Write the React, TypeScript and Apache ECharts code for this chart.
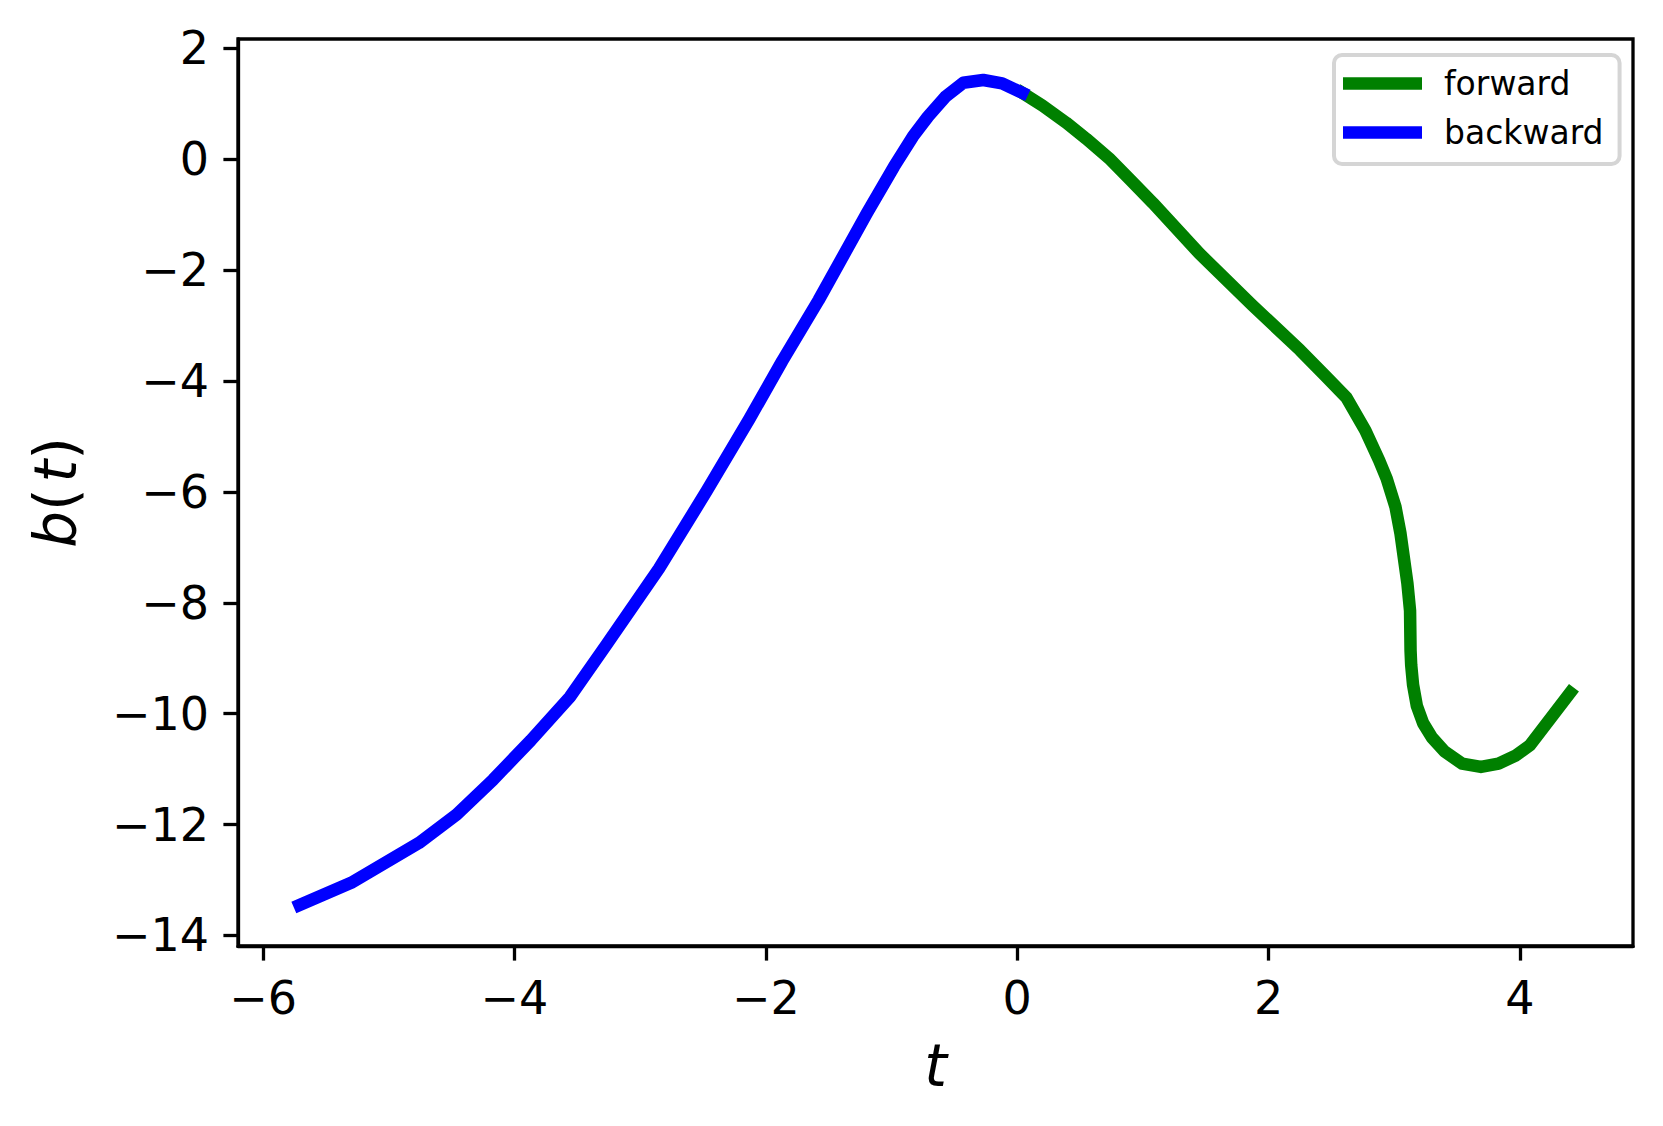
import React, { useEffect, useRef } from "react";
import * as echarts from "echarts";

// ---- data ----
const forwardT = [0.04, 0.20, 0.39, 0.55, 0.73, 0.90, 1.08, 1.45, 1.87, 2.25, 2.45, 2.62, 2.77, 2.88, 2.94, 3.01, 3.05, 3.105, 3.126, 3.13, 3.135, 3.15, 3.18, 3.23, 3.30, 3.40, 3.54, 3.69, 3.83, 3.97, 4.08, 4.40];
const forwardB = [1.20, 0.97, 0.66, 0.37, 0.02, -0.37, -0.79, -1.70, -2.63, -3.44, -3.90, -4.30, -4.89, -5.43, -5.76, -6.27, -6.75, -7.65, -8.14, -8.86, -9.12, -9.48, -9.86, -10.17, -10.43, -10.68, -10.90, -10.96, -10.90, -10.75, -10.57, -9.62];

const backwardT = [-5.71, -5.30, -4.76, -4.46, -4.17, -3.87, -3.56, -3.27, -2.85, -2.47, -2.13, -1.87, -1.58, -1.195, -0.98, -0.83, -0.71, -0.57, -0.43, -0.27, -0.12, 0.04];
const backwardB = [-13.45, -13.05, -12.33, -11.82, -11.19, -10.48, -9.70, -8.76, -7.38, -5.98, -4.68, -3.64, -2.54, -0.97, -0.13, 0.41, 0.77, 1.13, 1.38, 1.43, 1.37, 1.20];

const seriesNames = ["forward", "backward"];
const seriesColors = ["#008000", "#0000ff"];

const xTicks = [-6, -4, -2, 0, 2, 4];
const yTicks = [-14, -12, -10, -8, -6, -4, -2, 0, 2];
const xRange = [-6.2, 4.9];
const yRange = [-14.19, 2.17];

const FONT = '"DejaVu Sans", sans-serif';

const fmt = (v: number) => (v < 0 ? "\u2212" + Math.abs(v) : String(v));

export default function App() {
  const ref = useRef<HTMLDivElement>(null);
  useEffect(() => {
    if (!ref.current) return;
    const chart = echarts.init(ref.current, undefined, { renderer: "svg" });
    const fwd = forwardT.map((t, i) => [t, forwardB[i]]);
    const bwd = backwardT.map((t, i) => [t, backwardB[i]]);
    const tickStyle = { color: "#000", width: 3.3 };
    chart.setOption({
      animation: false,
      backgroundColor: "#fff",
      color: seriesColors,
      grid: {
        left: 238,
        right: 30,
        top: 39,
        bottom: 180,
        show: true,
        borderColor: "#000",
        borderWidth: 3.3,
        backgroundColor: "transparent",
      },
      legend: {
        data: seriesNames,
        orient: "vertical",
        left: 1334,
        top: 55,
        padding: [12, 16, 15, 9],
        itemWidth: 79,
        itemHeight: 12.5,
        itemGap: 16,
        icon: "rect",
        itemStyle: { borderWidth: 0 },
        borderColor: "#d5d5d5",
        borderWidth: 4,
        borderRadius: 8,
        backgroundColor: "#fff",
        textStyle: {
          fontFamily: FONT,
          fontSize: 33,
          color: "#000",
          padding: [0, 0, 0, 17],
        },
      },
      xAxis: {
        type: "value",
        min: xRange[0],
        max: xRange[1],
        name: "t",
        nameLocation: "middle",
        nameGap: 91,
        nameTextStyle: { fontFamily: FONT, fontSize: 58, fontStyle: "italic", color: "#000" },
        axisLine: { show: true, onZero: false, lineStyle: tickStyle },
        axisTick: { show: true, customValues: xTicks, length: 14.6, lineStyle: tickStyle },
        axisLabel: {
          customValues: xTicks,
          formatter: fmt,
          fontFamily: FONT,
          fontSize: 46,
          color: "#000",
          margin: 29,
        },
        splitLine: { show: false },
      },
      yAxis: {
        type: "value",
        min: yRange[0],
        max: yRange[1],
        name: "{i|b}(\u200a{i|t})",
        nameLocation: "middle",
        nameGap: 153,
        nameTextStyle: {
          fontFamily: FONT,
          fontSize: 58,
          color: "#000",
          rich: { i: { fontFamily: FONT, fontSize: 58, fontStyle: "italic", color: "#000" } },
        },
        axisLine: { show: true, onZero: false, lineStyle: tickStyle },
        axisTick: { show: true, customValues: yTicks, length: 14.6, lineStyle: tickStyle },
        axisLabel: {
          customValues: yTicks,
          formatter: fmt,
          fontFamily: FONT,
          fontSize: 46,
          color: "#000",
          margin: 29,
        },
        splitLine: { show: false },
      },
      series: [
        {
          name: seriesNames[0],
          type: "line",
          data: fwd,
          symbol: "none",
          lineStyle: { width: 12.5, color: seriesColors[0], cap: "square", join: "round" },
          itemStyle: { color: seriesColors[0] },
        },
        {
          name: seriesNames[1],
          type: "line",
          data: bwd,
          symbol: "none",
          lineStyle: { width: 12.5, color: seriesColors[1], cap: "square", join: "round" },
          itemStyle: { color: seriesColors[1] },
        },
      ],
    });
    return () => chart.dispose();
  }, []);
  return (
    <div
      ref={ref}
      style={{ position: "fixed", left: 0, top: 0, width: 1663, height: 1126, background: "#fff" }}
    />
  );
}
